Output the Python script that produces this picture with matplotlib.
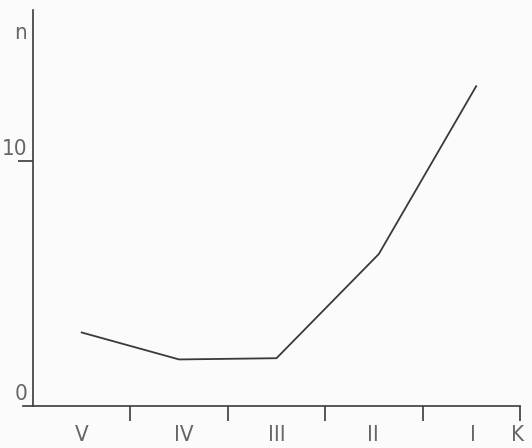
import matplotlib
matplotlib.use("Agg")
import matplotlib.pyplot as plt

categories = ["V", "IV", "III", "II", "I"]
values = [3.0, 1.9, 1.95, 6.2, 13.05]
x_pos = [0.5, 1.5, 2.5, 3.55, 4.55]

fig = plt.figure(figsize=(5.32, 4.48), dpi=100)
fig.patch.set_facecolor("#fbfbfb")
ax = fig.add_axes([33/532, 42/448, 487/532, 396/448])
ax.set_facecolor("#fbfbfb")

ink = "#3a3a3a"
ax.plot(x_pos, values, color=ink, lw=1.3)

ax.set_xlim(0, 5)
ax.set_ylim(0, 16.16)
for s in ["top", "right"]:
    ax.spines[s].set_visible(False)
for s in ["left", "bottom"]:
    ax.spines[s].set_color(ink)
    ax.spines[s].set_linewidth(1.2)
ax.spines["bottom"].set_bounds(-0.1, 5)
ax.spines["bottom"].set_clip_on(False)

ax.set_xticks([1, 2, 3, 4, 5])
ax.set_xticklabels([])
ax.tick_params(axis="x", direction="out", length=11, width=1.2, color=ink)
ax.set_yticks([10])
ax.set_yticklabels([])
ax.tick_params(axis="y", direction="out", length=11, width=1.2, color=ink)

txt = dict(color="#666666", fontsize=16, family="DejaVu Sans",
           fontweight="light", fontstretch="condensed")
for xp, c in zip([0.5, 1.545, 2.5, 3.49, 4.52], categories):
    ax.text(xp, -1.2, c, ha="center", va="center", **txt)
ax.text(4.97, -1.2, "K", ha="center", va="center", **txt)
ax.text(-0.06, 0.51, "0", ha="right", va="center", **txt)
ax.text(-0.06, 10.5, "10", ha="right", va="center", **txt)
ax.text(-0.13, 15.24, "n", ha="center", va="center", **txt)

fig.savefig("out.png", dpi=100, facecolor=fig.get_facecolor())
